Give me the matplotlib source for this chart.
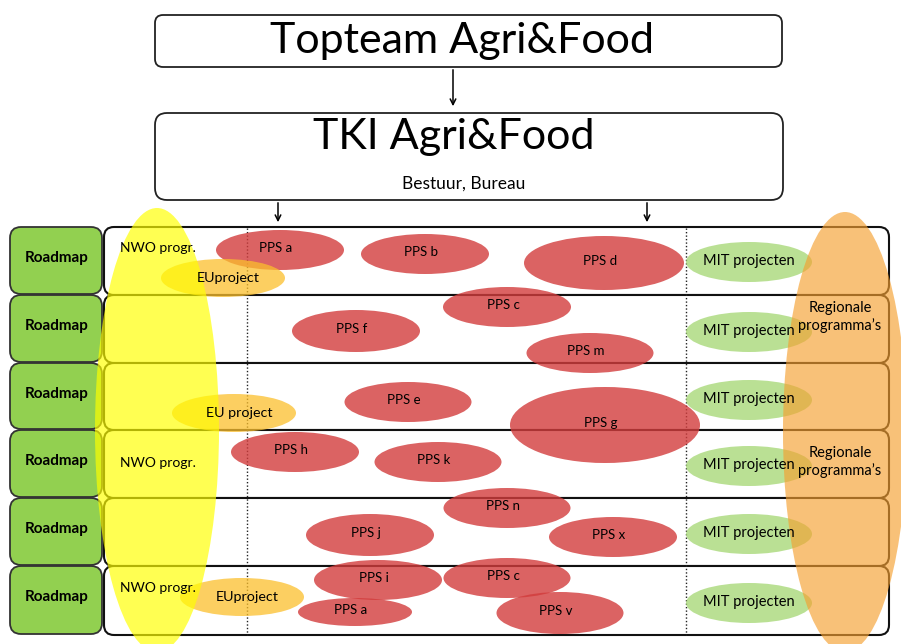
import matplotlib.pyplot as plt
from matplotlib.patches import FancyBboxPatch, Ellipse

plt.rcParams['font.family'] = ['Lato', 'DejaVu Sans']

# --- data (pixel layout of the diagram) ---
row_tops = [227, 295, 363, 430, 498, 566]
row_bottom = 635
roadmap_label = 'Roadmap'

# PPS projects: label, x, y, width, height
pps_labels = ['PPS a', 'PPS b', 'PPS d', 'PPS c', 'PPS f', 'PPS m', 'PPS e', 'PPS g',
              'PPS h', 'PPS k', 'PPS n', 'PPS j', 'PPS x', 'PPS i', 'PPS c', 'PPS a', 'PPS v']
pps_x = [280, 425, 604, 507, 356, 590, 408, 605, 295, 438, 507, 370, 613, 378, 507, 355, 560]
pps_y = [250, 254, 263, 307, 331, 353, 402, 425, 452, 462, 508, 535, 537, 580, 578, 612, 613]
pps_w = [128, 128, 160, 128, 128, 127, 127, 190, 128, 127, 127, 128, 128, 128, 127, 114, 127]
pps_h = [40, 40, 54, 40, 42, 40, 40, 76, 40, 40, 40, 42, 40, 40, 40, 28, 42]

eu_labels = ['EUproject', 'EU project', 'EUproject']
eu_x = [223, 234, 242]
eu_y = [278, 413, 597]

mit_label = 'MIT projecten'
mit_y = [262, 332, 400, 466, 534, 603]

nwo_y = [248, 463, 588]
regional_y = [317, 462]

fig = plt.figure(figsize=(9.01, 6.44), dpi=100)
ax = fig.add_axes([0, 0, 1, 1])
ax.set_xlim(0, 901)
ax.set_ylim(644, 0)
ax.axis('off')

# top boxes
ax.add_patch(FancyBboxPatch((155, 15), 627, 52, boxstyle='round,pad=0,rounding_size=8',
                            fc='white', ec='#222222', lw=1.3))
ax.text(462, 41, 'Topteam Agri&Food', ha='center', va='center', fontsize=31)
ax.annotate('', xy=(453, 109), xytext=(453, 67),
            arrowprops=dict(arrowstyle='->', color='black', lw=1.1))
ax.add_patch(FancyBboxPatch((155, 113), 628, 87, boxstyle='round,pad=0,rounding_size=12',
                            fc='white', ec='#222222', lw=1.3))
ax.text(454, 137, 'TKI Agri&Food', ha='center', va='center', fontsize=31)
ax.text(464, 184, 'Bestuur, Bureau', ha='center', va='center', fontsize=12.5)
for xa in [278, 647]:
    ax.annotate('', xy=(xa, 225), xytext=(xa, 200),
                arrowprops=dict(arrowstyle='->', color='black', lw=1.1))

# rows
bottoms = row_tops[1:] + [row_bottom]
for top, bot in zip(row_tops, bottoms):
    ax.add_patch(FancyBboxPatch((104, top), 785, bot - top, boxstyle='round,pad=0,rounding_size=10',
                                fc='white', ec='#111111', lw=1.5, zorder=1))
    ax.add_patch(FancyBboxPatch((10, top), 92, bot - top - 1, boxstyle='round,pad=0,rounding_size=11',
                                fc='#92d050', ec='#333333', lw=1.3, zorder=1))
    ax.text(57, (top + bot) / 2 - 3, roadmap_label, ha='center', va='center',
            fontsize=11, fontweight='bold', zorder=6)

for xd in [247, 686]:
    ax.plot([xd, xd], [228, row_bottom], color='#222222', lw=1, ls=(0, (1, 1.5)), zorder=2)

# PPS ellipses
for lab, x, y, w, h in zip(pps_labels, pps_x, pps_y, pps_w, pps_h):
    ax.add_patch(Ellipse((x, y), w, h, fc='#d23c3c', alpha=0.8, ec='none', zorder=3))
    ax.text(x - 4, y - 2, lab, ha='center', va='center', fontsize=9.5, zorder=6)

# EU projects
for lab, x, y in zip(eu_labels, eu_x, eu_y):
    ax.add_patch(Ellipse((x, y), 124, 38, fc='#fbbf2c', alpha=0.75, ec='none', zorder=3))
    ax.text(x + 5, y, lab, ha='center', va='center', fontsize=10.3, zorder=6)

# MIT projects
for y in mit_y:
    ax.add_patch(Ellipse((749, y), 126, 40, fc='#a9d97a', alpha=0.8, ec='none', zorder=3))
    ax.text(749, y - 1, mit_label, ha='center', va='center', fontsize=10.5, zorder=6)

# big overlay ellipses
ax.add_patch(Ellipse((157, 430), 124, 444, fc='#ffff00', alpha=0.68, ec='none', zorder=4))
ax.add_patch(Ellipse((845, 432), 124, 440, fc='#f5a030', alpha=0.65, ec='none', zorder=4))

for y in nwo_y:
    ax.text(158, y, 'NWO progr.', ha='center', va='center', fontsize=10, zorder=6)
for y in regional_y:
    ax.text(840, y, 'Regionale\nprogramma\u2019s', ha='center', va='center', fontsize=10.5,
            linespacing=1.25, zorder=6)

fig.savefig('out.png', dpi=100)
